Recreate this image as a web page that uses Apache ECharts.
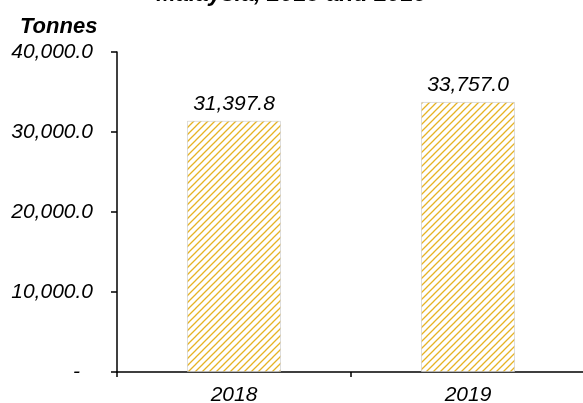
<!DOCTYPE html>
<html>
<head>
<meta charset="utf-8">
<script src="https://cdn.jsdelivr.net/npm/echarts@6/dist/echarts.min.js"></script>
<style>
html,body{margin:0;padding:0;background:#fff;}
#chart{width:583px;height:403px;}
</style>
</head>
<body>
<div id="chart"></div>
<script>
var titleText = 'Malaysia, 2018 and 2019';
var unitText = 'Tonnes';
var categories = ['2018', '2019'];
var values = [31397.8, 33757.0];
var yMin = 0, yMax = 40000, yInterval = 10000;

function fmt1(v) {
  return Number(v).toLocaleString('en-US', {minimumFractionDigits: 1, maximumFractionDigits: 1});
}

function makePattern() {
  var c = document.createElement('canvas');
  c.width = 7; c.height = 7;
  var g = c.getContext('2d');
  g.fillStyle = '#ffffff';
  g.fillRect(0, 0, 7, 7);
  g.strokeStyle = '#E6B324';
  g.lineWidth = 1.3;
  g.beginPath();
  g.moveTo(-1, 8); g.lineTo(8, -1);
  g.moveTo(-4.5, 4.5); g.lineTo(4.5, -4.5);
  g.moveTo(2.5, 11.5); g.lineTo(11.5, 2.5);
  g.stroke();
  return c;
}

var chart = echarts.init(document.getElementById('chart'), null, {renderer: 'canvas'});
var font = 'Liberation Sans, Arial, sans-serif';
chart.setOption({
  animation: false,
  backgroundColor: '#ffffff',
  title: [{
    text: titleText,
    left: 'center',
    top: -17,
    padding: 0,
    textStyle: {fontFamily: font, fontSize: 23.5, fontWeight: 'bold', fontStyle: 'italic', color: '#000'}
  }, {
    text: unitText,
    left: 20,
    top: 16,
    padding: 0,
    textStyle: {fontFamily: font, fontSize: 22, fontWeight: 'bold', fontStyle: 'italic', color: '#000'}
  }],
  grid: {left: 117, right: -2, top: 52, bottom: 31, containLabel: false, outerBoundsMode: 'none'},
  xAxis: {
    type: 'category',
    data: categories,
    axisLine: {lineStyle: {color: '#000', width: 1.5}},
    axisTick: {show: true, length: 5, lineStyle: {color: '#000', width: 1.5}},
    axisLabel: {margin: 13, fontFamily: font, fontSize: 21, fontStyle: 'italic', color: '#000'},
    splitLine: {show: false}
  },
  yAxis: {
    type: 'value',
    min: yMin, max: yMax, interval: yInterval,
    axisLine: {show: true, lineStyle: {color: '#000', width: 1.5}},
    axisTick: {show: true, length: 6, lineStyle: {color: '#000', width: 1.5}},
    splitLine: {show: false},
    axisLabel: {
      margin: 24,
      fontFamily: font, fontSize: 21, fontStyle: 'italic', color: '#000',
      formatter: function (v) { return v === 0 ? '{z|-}' : fmt1(v); },
      rich: {z: {fontFamily: font, fontSize: 21, fontStyle: 'italic', color: '#000', padding: [0, 13, 0, 0]}}
    }
  },
  series: [{
    type: 'bar',
    data: values,
    barWidth: 94,
    itemStyle: {
      color: {image: makePattern(), repeat: 'repeat'},
      borderColor: 'rgba(200,200,200,0.6)',
      borderWidth: 1
    },
    label: {
      show: true,
      position: 'top',
      distance: 6,
      fontFamily: font, fontSize: 21, fontStyle: 'italic', color: '#000',
      formatter: function (p) { return fmt1(p.value); }
    }
  }]
});
</script>
</body>
</html>
